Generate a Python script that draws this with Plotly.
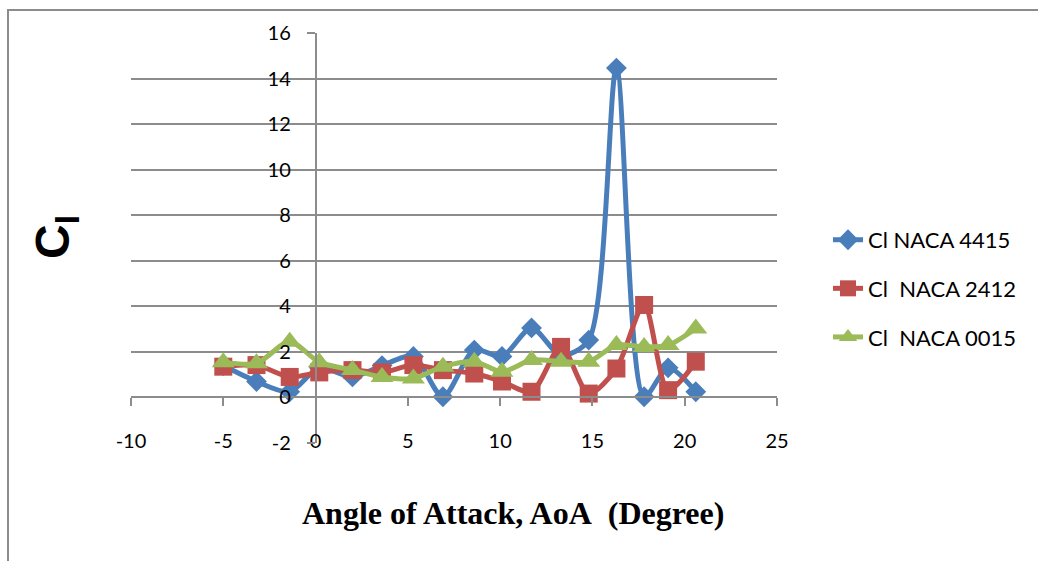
import plotly.graph_objects as go

# Data
aoa = [-5, -3.2, -1.4, 0.2, 2.0, 3.6, 5.3, 6.9, 8.6, 10.1, 11.7, 13.3, 14.8, 16.3, 17.8, 19.1, 20.6]
cl_4415 = [1.4, 0.7, 0.25, 1.3, 0.9, 1.4, 1.8, 0.03, 2.08, 1.8, 3.05, 1.85, 2.52, 14.46, 0.03, 1.3, 0.25]
cl_2412 = [1.35, 1.42, 0.9, 1.1, 1.2, 1.1, 1.42, 1.2, 1.05, 0.7, 0.25, 2.22, 0.17, 1.27, 4.06, 0.32, 1.57]
cl_0015 = [1.55, 1.5, 2.45, 1.55, 1.2, 0.9, 0.83, 1.35, 1.57, 1.13, 1.64, 1.57, 1.57, 2.3, 2.22, 2.3, 3.03]

names = ["Cl NACA 4415", "Cl\u00a0 NACA 2412", "Cl\u00a0 NACA 0015"]
colors = ["#4A7EBB", "#C0504D", "#9BBB59"]
symbols = ["diamond", "square", "triangle-up"]
sizes = [16, 18, 20]
series = [cl_4415, cl_2412, cl_0015]

x_ticks = [-10, -5, 0, 5, 10, 15, 20, 25]
x_labels = ["-10", "-5", "0", "5", "10", "15", "20", "25"]
y_ticks = [-2, 0, 2, 4, 6, 8, 10, 12, 14, 16]
y_labels = ["-2", "0", "2", "4", "6", "8", "10", "12", "14", "16"]

fig = go.Figure()
for i, (name, ys) in enumerate(zip(names, series)):
    fig.add_trace(go.Scatter(
        x=aoa, y=ys, name=name, mode="lines+markers",
        line=dict(color=colors[i], width=5, shape="spline", smoothing=0.8),
        marker=dict(symbol=symbols[i], size=sizes[i], color=colors[i]),
        legendgroup=f"g{i}",
    ))

grid = "#8C8C8C"
W, H = 1038, 561
L, R, T, B = 131, 261, 33, 118
plot_w = W - L - R
plot_h = H - T - B

fig.update_layout(
    width=W, height=H,
    margin=dict(l=L, r=R, t=T, b=B),
    paper_bgcolor="white", plot_bgcolor="white",
    font=dict(family="Lato", size=20, color="black"),
    showlegend=True,
    legend=dict(x=(828 - L) / plot_w, y=0.377, xanchor="left", yanchor="middle",
                font=dict(family="Lato", size=22, color="black"),
                tracegroupgap=17, bgcolor="rgba(0,0,0,0)"),
    xaxis=dict(range=[-10, 25], tickvals=x_ticks, ticktext=x_labels,
               showgrid=False, zeroline=False,
               anchor="free", position=(0 - (-2)) / 18,
               showline=True, linecolor=grid, linewidth=1.5,
               ticks="outside", ticklen=8, tickcolor=grid, tickwidth=1.5,
               ticklabelstandoff=18),
    yaxis=dict(range=[-2, 16], tickvals=y_ticks, ticktext=y_labels,
               showgrid=True, gridcolor=grid, gridwidth=1.5,
               zeroline=False, anchor="free", position=(0 - (-10)) / 35,
               showline=True, linecolor=grid, linewidth=1.5,
               ticks="outside", ticklen=8, tickcolor=grid, tickwidth=1.5,
               ticklabelstandoff=12),
    annotations=[
        dict(text="<b>C<sub>l</sub></b>", xref="paper", yref="paper",
             x=(56 - L) / plot_w, y=(443 - 237) / plot_h, textangle=-90,
             showarrow=False, font=dict(family="Liberation Sans", size=48, color="black"),
             xanchor="center", yanchor="middle"),
        dict(text="<b>Angle of Attack, AoA\u00a0 (Degree)</b>", xref="paper", yref="paper",
             x=(513 - L) / plot_w, y=(443 - 513) / plot_h, showarrow=False,
             font=dict(family="Liberation Serif", size=32, color="black"),
             xanchor="center", yanchor="middle"),
    ],
    shapes=[
        dict(type="rect", xref="paper", yref="paper",
             x0=(8 - L) / plot_w, x1=(1045 - L) / plot_w,
             y0=(443 - 570) / plot_h, y1=(443 - 10) / plot_h,
             line=dict(color=grid, width=2), fillcolor="rgba(0,0,0,0)", layer="below"),
    ],
)

fig.write_html("out.html")
